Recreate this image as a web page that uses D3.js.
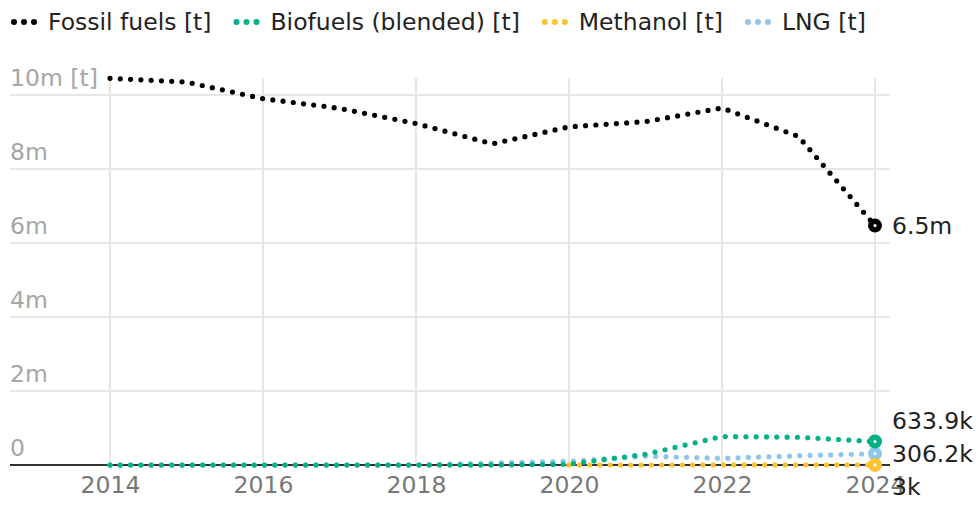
<!DOCTYPE html>
<html><head><meta charset="utf-8">
<script src="https://cdn.jsdelivr.net/npm/d3@7"></script>
<style>
html,body{margin:0;padding:0;background:#fff;}
svg{display:block;font-family:"DejaVu Sans",sans-serif;}
</style></head>
<body><svg id="c" width="976" height="505"></svg>
<script>
const years = [2014,2015,2016,2017,2018,2019,2020,2021,2022,2023,2024];
const seriesNames = ["Fossil fuels [t]","Biofuels (blended) [t]","Methanol [t]","LNG [t]"];
const seriesColors = ["#000000","#00b087","#fdc230","#8ec6ec"];
const fossil   = [10450000,10350000,9900000,9640000,9230000,8680000,9140000,9280000,9650000,8880000,6470000];
const biofuels = [0,0,0,0,0,0,20000,290000,770000,750000,633900];
const methanolYears = [2020,2021,2022,2023,2024];
const methanol = [0,0,1000,2000,3000];
const lng      = [0,0,0,0,0,50000,100000,240000,180000,250000,306200];
const xTicks = [2014,2016,2018,2020,2022,2024];
const yTicks = [0,2000000,4000000,6000000,8000000,10000000];

const series = [
  {name:seriesNames[0], color:seriesColors[0], pts:years.map((y,i)=>[y,fossil[i]])},
  {name:seriesNames[1], color:seriesColors[1], pts:years.map((y,i)=>[y,biofuels[i]])},
  {name:seriesNames[2], color:seriesColors[2], pts:methanolYears.map((y,i)=>[y,methanol[i]])},
  {name:seriesNames[3], color:seriesColors[3], pts:years.map((y,i)=>[y,lng[i]])}
];

const svg = d3.select("#c");
const FS = 23.5;
const x = d3.scaleLinear().domain([2014,2024]).range([110,875]);
const y = d3.scaleLinear().domain([0,10000000]).range([465,95]);
const gridL = 10, gridR = 890;

// horizontal grid + y labels
const yFmt = v => v===0 ? "0" : (v/1e6)+"m" + (v===10000000 ? " [t]" : "");
const gy = svg.append("g");
gy.selectAll("line").data(yTicks.filter(v=>v>0)).join("line")
  .attr("x1",gridL).attr("x2",gridR).attr("y1",d=>y(d)).attr("y2",d=>y(d))
  .attr("stroke","#e6e6e6").attr("stroke-width",2);
// vertical grid
svg.append("g").selectAll("line").data(xTicks).join("line")
  .attr("x1",d=>x(d)).attr("x2",d=>x(d)).attr("y1",78).attr("y2",y(0))
  .attr("stroke","#e6e6e6").attr("stroke-width",2);
gy.selectAll("text").data(yTicks).join("text")
  .attr("x",gridL).attr("y",d=>y(d)-9)
  .attr("fill","#a6a6a6").attr("font-size",FS).text(yFmt);

// x axis labels
const xa = svg.append("g").attr("transform",`translate(0,${y(0)})`)
  .call(d3.axisBottom(x).tickValues(xTicks).tickFormat(d3.format("d")).tickSize(0).tickPadding(11));
xa.select(".domain").remove();
xa.selectAll("text").attr("font-size",FS).attr("fill","#777").attr("font-family","DejaVu Sans");

// zero line
svg.append("line").attr("x1",gridL).attr("x2",gridR).attr("y1",y(0)).attr("y2",y(0))
  .attr("stroke","#333").attr("stroke-width",2);

const line = d3.line().x(d=>x(d[0])).y(d=>y(d[1])).curve(d3.curveLinear);
const drawOrder = series.slice().reverse();
svg.append("g").selectAll("path").data(drawOrder).join("path")
  .attr("d",d=>line(d.pts)).attr("fill","none").attr("stroke",d=>d.color)
  .attr("stroke-width",5.2).attr("stroke-linecap","round").attr("stroke-linejoin","round").attr("stroke-dasharray","0 10.3");

// end points
const ends = svg.append("g").selectAll("g").data(drawOrder).join("g")
  .attr("transform",d=>{const p=d.pts[d.pts.length-1];return `translate(${x(p[0])},${y(p[1])})`;});
ends.append("circle").attr("r",7).attr("fill",d=>d.color);
ends.append("circle").attr("r",1.6).attr("fill","#fff");

// end labels with collision avoidance
const fmtEnd = v => v>=1e6 ? (+(v/1e6).toFixed(1))+"m" : (+(v/1e3).toFixed(1))+"k";
let labels = series.map(s=>{const p=s.pts[s.pts.length-1];return {text:fmtEnd(p[1]), y:y(p[1]), t:y(p[1])};});
labels.sort((a,b)=>a.t-b.t);
const gap = 33;
let clusters = labels.map(l=>({items:[l], center:l.t}));
let changed = true;
while(changed){
  changed=false;
  for(let i=0;i<clusters.length-1;i++){
    const a=clusters[i], b=clusters[i+1];
    const aBot = a.center + (a.items.length-1)*gap/2;
    const bTop = b.center - (b.items.length-1)*gap/2;
    if(bTop - aBot < gap){
      const items = a.items.concat(b.items);
      const center = d3.mean(items, d=>d.t);
      clusters.splice(i,2,{items,center});
      changed=true; break;
    }
  }
}
clusters.forEach(c=>c.items.forEach((it,k)=>{it.y = c.center + (k-(c.items.length-1)/2)*gap;}));
svg.append("g").selectAll("text").data(labels).join("text")
  .attr("x",892).attr("y",d=>d.y).attr("dy","0.36em")
  .attr("fill","#222").attr("font-size",FS).text(d=>d.text);

// legend
const lg = svg.append("g").attr("transform","translate(0,22)");
let cx = 12;
series.forEach(s=>{
  const g = lg.append("g");
  g.append("line").attr("x1",cx+2).attr("x2",cx+24).attr("y1",0).attr("y2",0)
    .attr("stroke",s.color).attr("stroke-width",6).attr("stroke-linecap","round").attr("stroke-dasharray","0 10");
  const t = g.append("text").attr("x",cx+36).attr("y",0).attr("dy","0.36em")
    .attr("fill","#222").attr("font-size",FS).text(s.name);
  cx = cx + 36 + t.node().getComputedTextLength() + 23;
});
</script></body></html>
